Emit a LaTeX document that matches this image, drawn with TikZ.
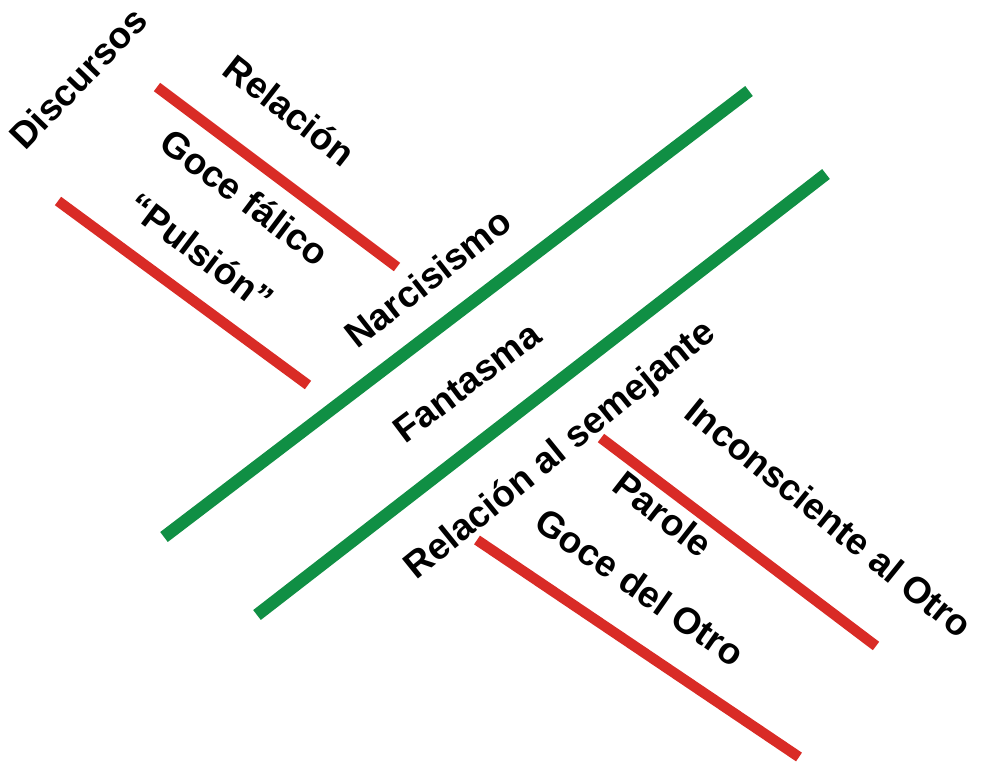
\documentclass[tikz,border=0pt]{standalone}
\usepackage{fontspec}
\setmainfont{Liberation Sans}
\definecolor{lgreen}{RGB}{16,143,68}
\definecolor{lred}{RGB}{217,43,38}
\begin{document}
\begin{tikzpicture}[x=1pt,y=-1pt,
  gline/.style={draw=lgreen,line width=12.5pt},
  rline/.style={draw=lred,line width=10.5pt},
  lbl/.style={font=\bfseries\fontsize{37}{37}\selectfont,inner sep=0pt,anchor=center}]
\useasboundingbox[fill=white] (0,0) rectangle (988,763);
% green lines
\coordinate (g1a) at (164,537); \coordinate (g1b) at (749,91);
\coordinate (g2a) at (257,615); \coordinate (g2b) at (826,174);
\draw[gline] (g1a) -- (g1b);
\draw[gline] (g2a) -- (g2b);
% red lines
\coordinate (r1a) at (157,87); \coordinate (r1b) at (397,267);
\coordinate (r2a) at (58,201); \coordinate (r2b) at (308,385);
\coordinate (r3a) at (601,438); \coordinate (r3b) at (876,646);
\coordinate (r4a) at (477,540); \coordinate (r4b) at (799,757);
\draw[rline] (r1a) -- (r1b);
\draw[rline] (r2a) -- (r2b);
\draw[rline] (r3a) -- (r3b);
\draw[rline] (r4a) -- (r4b);
% labels
\node[lbl,rotate=46] (discursos) at (78,78) {Discursos};
\node[lbl,rotate=-38] (relacion) at (290,110) {Relación};
\node[lbl,rotate=-37] (goce) at (245,197) {Goce fálico};
\node[lbl,rotate=-37] (pulsion) at (201,252) {“Pulsión”};
\node[lbl,rotate=38] (narc) at (428,278) {Narcisismo};
\node[lbl,rotate=37] (fant) at (467,382) {Fantasma};
\node[lbl,rotate=39] (relsem) at (561,451) {Relación al semejante};
\node[lbl,rotate=-39] (incons) at (829,518) {Inconsciente al Otro};
\node[lbl,rotate=-38] (parole) at (663,514) {Parole};
\node[lbl,rotate=-35] (gocedel) at (640,587) {Goce del Otro};
\end{tikzpicture}
\end{document}
